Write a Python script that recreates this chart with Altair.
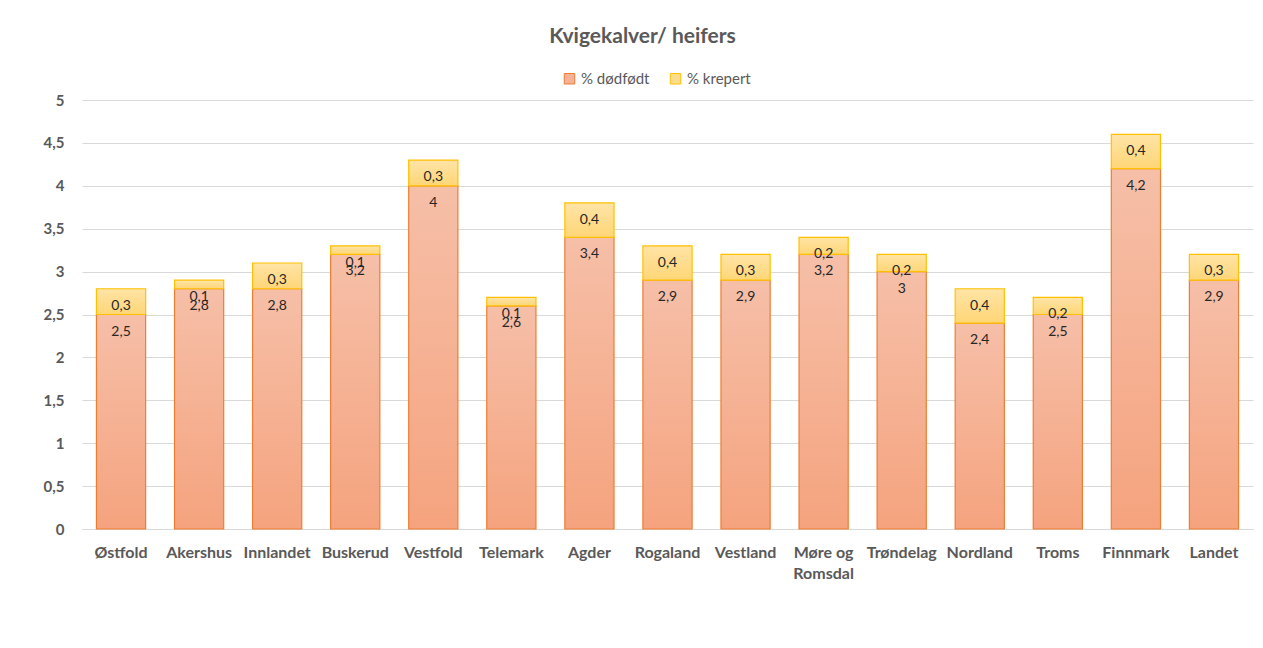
import altair as alt
import pandas as pd

categories = ["Østfold", "Akershus", "Innlandet", "Buskerud", "Vestfold", "Telemark",
              "Agder", "Rogaland", "Vestland", "Møre og Romsdal", "Trøndelag",
              "Nordland", "Troms", "Finnmark", "Landet"]
dodfodt = [2.5, 2.8, 2.8, 3.2, 4, 2.6, 3.4, 2.9, 2.9, 3.2, 3, 2.4, 2.5, 4.2, 2.9]
krepert = [0.3, 0.1, 0.3, 0.1, 0.3, 0.1, 0.4, 0.4, 0.3, 0.2, 0.2, 0.4, 0.2, 0.4, 0.3]
series_names = ["% dødfødt", "% krepert"]

rows = []
for c, d, k in zip(categories, dodfodt, krepert):
    rows.append({"region": c, "serie": series_names[0], "ord": 0, "v": d})
    rows.append({"region": c, "serie": series_names[1], "ord": 1, "v": k})
df = pd.DataFrame(rows)

FONT = "Lato"
GRAY = "#595959"

grad_d = {"gradient": "linear", "x1": 0, "y1": 0, "x2": 0, "y2": 1,
          "stops": [{"offset": 0, "color": "#F6BFA8"}, {"offset": 1, "color": "#F5A37E"}]}
grad_k = {"gradient": "linear", "x1": 0, "y1": 0, "x2": 0, "y2": 1,
          "stops": [{"offset": 0, "color": "#FFE4A6"}, {"offset": 1, "color": "#FFD677"}]}

base = alt.Chart(df).transform_stack(
    stack="v", groupby=["region"], as_=["start", "end"], sort=[alt.SortField("ord")]
).transform_calculate(
    lbl="replace(toString(datum.v), '.', ',')"
)

x_enc = alt.X(
    "region:N", sort=categories, title=None,
    scale=alt.Scale(paddingInner=0.37, paddingOuter=0.185),
    axis=alt.Axis(
        labelAngle=0, labelFont=FONT, labelFontWeight="bold", labelFontSize=16,
        labelColor=GRAY, labelPadding=15, ticks=False, domainColor="#D9D9D9",
        labelExpr="datum.label == 'Møre og Romsdal' ? ['Møre og', 'Romsdal'] : datum.label",
        labelLineHeight=21, labelBaseline="top", labelLimit=200,
    ),
)
y_enc = alt.Y(
    "start:Q", title=None,
    scale=alt.Scale(domain=[0, 5], nice=False),
    axis=alt.Axis(
        values=[0, 0.5, 1, 1.5, 2, 2.5, 3, 3.5, 4, 4.5, 5],
        labelExpr="replace(toString(datum.value), '.', ',')",
        labelFont=FONT, labelFontWeight="bold", labelFontSize=15, labelColor=GRAY,
        labelPadding=18, ticks=False, domain=False, gridColor="#D9D9D9",
    ),
)
color_enc = alt.Color(
    "serie:N", title=None,
    scale=alt.Scale(domain=series_names, range=["#F5B296", "#FFDC8E"]),
    legend=alt.Legend(
        orient="none", legendX=480, legendY=-29, direction="horizontal",
        symbolType="square", symbolSize=110, symbolStrokeWidth=1,
        labelFont=FONT, labelFontSize=15, labelColor=GRAY, columnPadding=18,
        labelOffset=4,
    ),
)
stroke_enc = alt.Stroke(
    "serie:N", title=None,
    scale=alt.Scale(domain=series_names, range=["#ED7D31", "#FFC000"]),
    legend=None,
)

bars_d = base.transform_filter(alt.datum.ord == 0).mark_bar(
    fill=grad_d, strokeWidth=1.2
).encode(x=x_enc, y=y_enc, y2="end:Q", color=color_enc, stroke=stroke_enc)

bars_k = base.transform_filter(alt.datum.ord == 1).mark_bar(
    fill=grad_k, strokeWidth=1.2
).encode(x=x_enc, y=y_enc, y2="end:Q", color=color_enc, stroke=stroke_enc)

labels = base.mark_text(
    font=FONT, fontSize=14, color="#262626", baseline="middle", dy=17
).encode(
    x=alt.X("region:N", sort=categories),
    y=alt.Y("end:Q"),
    text="lbl:N",
)

chart = alt.layer(bars_d, bars_k, labels).properties(
    width=1171, height=429,
    autosize=alt.AutoSizeParams(type="none"),
    padding={"left": 74, "top": 92, "right": 2, "bottom": 100},
    title=alt.Title(
        "Kvigekalver/ heifers", font=FONT, fontSize=21, fontWeight="bold",
        color=GRAY, anchor="middle", frame="group", offset=24, dx=-25,
    ),
).configure_view(stroke=None)

chart.save("out.html", embed_options={"renderer": "svg", "actions": False})
